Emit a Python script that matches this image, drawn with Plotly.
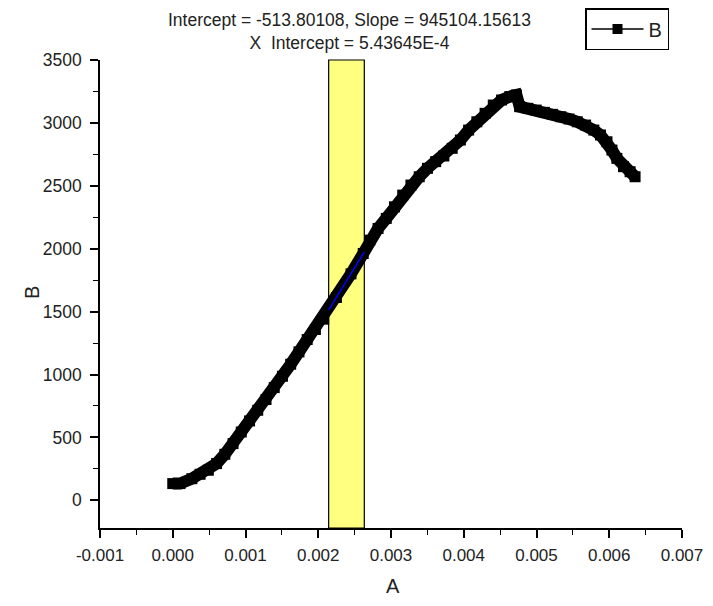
import plotly.graph_objects as go

# Data
A = [0.00000, 0.00010, 0.000263, 0.000376, 0.000489, 0.000602, 0.000716, 0.000829,
     0.000942, 0.001056, 0.001168, 0.001282, 0.001395, 0.001508, 0.001621, 0.001735,
     0.001848, 0.001961, 0.002075, 0.00225, 0.00245, 0.002618, 0.002708, 0.002822,
     0.002935, 0.003048, 0.003161, 0.003274, 0.003388, 0.003501, 0.003614, 0.003727,
     0.003841, 0.003954, 0.004067, 0.004180, 0.004293, 0.004406, 0.004520, 0.004633,
     0.004724, 0.004769, 0.004882, 0.004996, 0.005109, 0.005222, 0.005335, 0.005448,
     0.005561, 0.005675, 0.005788, 0.005879, 0.005969, 0.006037, 0.006105, 0.006196,
     0.006287, 0.006355]
B = [133, 133, 172, 207, 239, 292, 366, 451,
     543, 631, 716, 801, 896, 986, 1082, 1180,
     1278, 1358, 1440, 1612, 1800, 1962, 2068, 2161,
     2241, 2333, 2426, 2506, 2572, 2639, 2692, 2737,
     2798, 2864, 2943, 3009, 3076, 3142, 3182, 3209,
     3222, 3129, 3116, 3102, 3084, 3068, 3049, 3031,
     3009, 2983, 2943, 2904, 2850, 2784, 2718, 2652,
     2612, 2572]

fit_intercept = -513.80108
fit_slope = 945104.15613
fit_range = [0.002143, 0.002633]
fit_y = [fit_intercept + fit_slope * x for x in fit_range]

x_ticks = [-0.001, 0.0, 0.001, 0.002, 0.003, 0.004, 0.005, 0.006, 0.007]
x_ticklabels = ["-0.001", "0.000", "0.001", "0.002", "0.003", "0.004", "0.005", "0.006", "0.007"]
y_ticks = [0, 500, 1000, 1500, 2000, 2500, 3000, 3500]

FONT = "Liberation Sans, Arial, sans-serif"
TXT = "#222222"

# page has an 8px body margin; the figure is sized so the page does not overflow
OFF = 8
W, H = 713 - OFF, 606 - 2 * OFF
PL, PR, PT, PB = 100, 682, 60, 528          # plot area in page pixels
L, T = PL - OFF, PT - OFF
R, Bm = W - (PR - OFF), H - (PB - OFF)
PW, PH = PR - PL, PB - PT


def px(xp):
    return (xp - PL) / PW


def py(yp):
    return (PB - yp) / PH


fig = go.Figure()

fig.add_trace(go.Scatter(
    x=A, y=B, mode="lines+markers", showlegend=False,
    line=dict(color="black", width=12),
    marker=dict(symbol="square", size=11, color="black", line=dict(width=0)),
))
fig.add_trace(go.Scatter(
    x=fit_range, y=fit_y, mode="lines", showlegend=False,
    line=dict(color="#0000ff", width=1.5),
))
fig.add_trace(go.Scatter(
    x=[None], y=[None], mode="lines+markers", name="B",
    line=dict(color="black", width=1.5),
    marker=dict(symbol="square", size=10, color="black"),
))

fig.add_shape(type="rect", xref="x", yref="paper",
              x0=fit_range[0], x1=fit_range[1], y0=0, y1=1,
              fillcolor="#FFFF80", line=dict(color="black", width=1.2), layer="below")

fig.add_annotation(
    xref="paper", yref="paper", x=px(349), y=py(32),
    text="Intercept = -513.80108, Slope = 945104.15613<br>X  Intercept = 5.43645E-4",
    showarrow=False, font=dict(family=FONT, size=17.5, color=TXT), align="center",
    xanchor="center", yanchor="middle",
)
fig.add_annotation(
    xref="paper", yref="paper", x=px(393), y=py(586), text="A", showarrow=False,
    font=dict(family=FONT, size=20, color=TXT), xanchor="center", yanchor="middle",
)
fig.add_annotation(
    xref="paper", yref="paper", x=px(32), y=py(293), text="B", showarrow=False,
    textangle=-90, font=dict(family=FONT, size=20, color=TXT),
    xanchor="center", yanchor="middle",
)

fig.update_layout(
    width=W, height=H, autosize=False,
    margin=dict(l=L, r=R, t=T, b=Bm, autoexpand=False),
    paper_bgcolor="white", plot_bgcolor="white",
    font=dict(family=FONT, size=18, color=TXT),
    legend=dict(xref="container", yref="container",
                x=(585 - OFF) / W, y=1.0, xanchor="left", yanchor="top",
                bordercolor="black", borderwidth=1.5, bgcolor="white",
                font=dict(family=FONT, size=20, color=TXT), itemwidth=52,
                tracegroupgap=0),
)

fig.update_xaxes(
    range=[-0.001, 0.007], tickvals=x_ticks, ticktext=x_ticklabels, automargin=False,
    showline=True, linecolor="black", linewidth=1.5, showgrid=False, zeroline=False,
    ticks="outside", ticklen=8, tickwidth=1.5, tickcolor="black", ticklabelstandoff=3,
    ticklabeloverflow="allow",
    minor=dict(dtick=0.0005, ticks="outside", ticklen=5, tickwidth=1.2, tickcolor="black"),
    tickfont=dict(family=FONT, size=17, color=TXT),
)
fig.update_yaxes(
    range=[-220, 3500], tickvals=y_ticks, automargin=False,
    showline=True, linecolor="black", linewidth=1.5, showgrid=False, zeroline=False,
    ticks="outside", ticklen=8, tickwidth=1.5, tickcolor="black", ticklabelstandoff=5,
    minor=dict(dtick=250, ticks="outside", ticklen=5, tickwidth=1.2, tickcolor="black"),
    tickfont=dict(family=FONT, size=17.5, color=TXT),
)

fig.write_html("out.html", config={"responsive": False})
